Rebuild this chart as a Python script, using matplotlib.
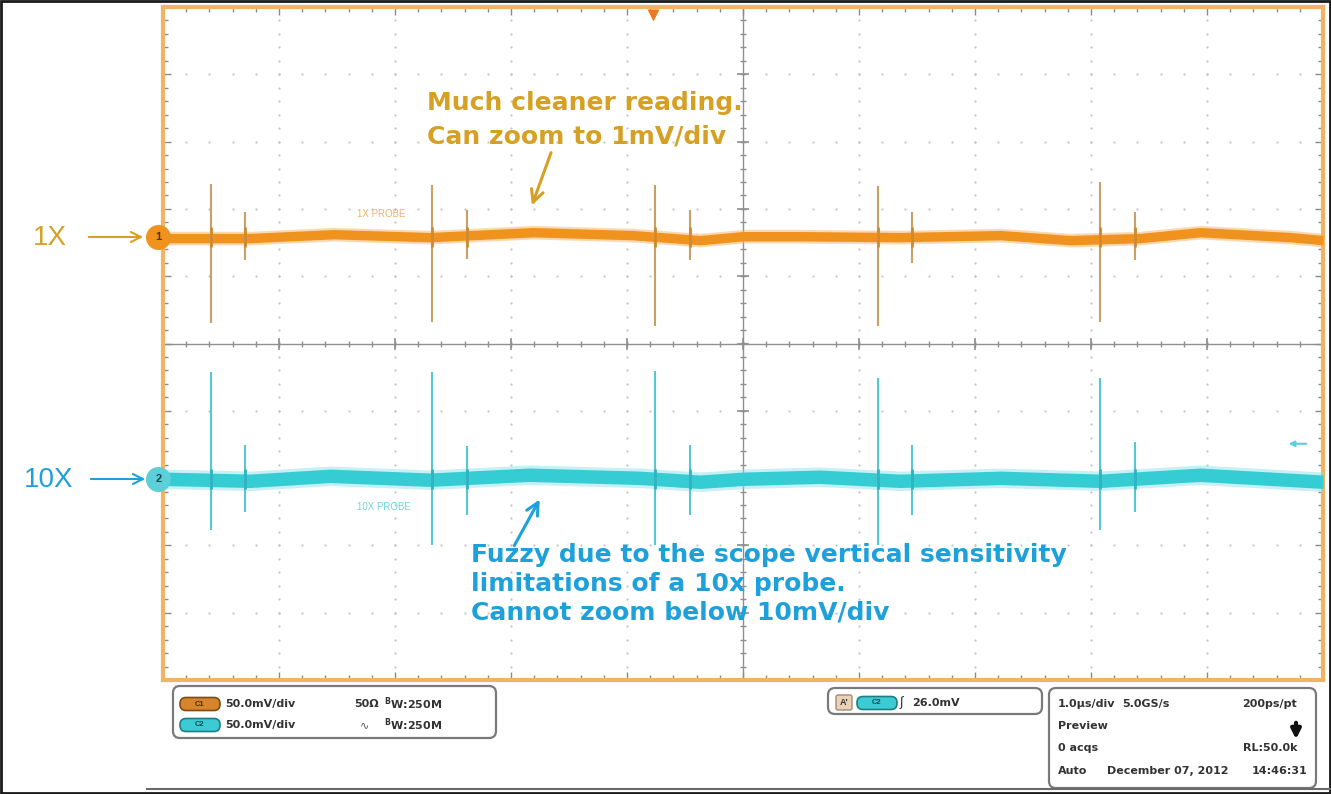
import numpy as np
import matplotlib
matplotlib.use('Agg')
import matplotlib.pyplot as plt
from matplotlib.patches import FancyBboxPatch, Rectangle

plt.rcParams['font.family'] = ['Liberation Sans', 'DejaVu Sans']

W, H = 1331, 794

# scope settings: 10 x 10 divisions, 1.0us/div, 50mV/div
VDIV = 50.0
CH1_POS = 1.58      # ground marker, divisions
CH2_POS = -2.01
TRIG_T = -0.78      # us
TRIG_LEVEL = 26.0   # mV on C2

# slow baseline wander (us, mV)
ch1_t = [-5.0, -4.25, -3.53, -2.70, -1.81, -0.95, -0.37, 0.0, 0.49, 1.35,
         2.22, 2.82, 3.42, 3.94, 4.72, 5.0]
ch1_mv = [-0.7, -0.7, 2.2, 0.0, 3.7, 1.5, -2.2, 0.7, 0.7, 0.0,
          1.5, -2.2, -0.7, 3.7, 0.0, -2.2]
ch2_t = [-5.0, -4.25, -3.56, -2.70, -1.84, -0.89, -0.37, 0.0, 0.66, 1.35,
         2.22, 3.08, 3.94, 5.0]
ch2_mv = [0.0, -1.5, 2.2, -0.7, 3.0, 0.7, -2.2, 0.0, 1.5, -1.5,
          0.7, -1.5, 3.0, -2.2]

# switching glitches (us)
big_t = [-4.59, -2.68, -0.76, 1.16, 3.08]
small_t = [-4.29, -2.38, -0.46, 1.46, 3.38]

ch1_big_hi = [39.6, 38.8, 38.8, 38.1, 41.0]
ch1_big_lo = [-64.0, -63.0, -66.0, -66.0, -63.0]
ch1_small_hi = [19.0, 20.0, 20.0, 19.0, 19.0]
ch1_small_lo = [-17.0, -16.0, -17.0, -19.0, -17.0]

ch2_big_hi = [79.0, 79.0, 80.0, 75.0, 75.0]
ch2_big_lo = [-38.0, -49.0, -49.0, -49.0, -38.0]
ch2_small_hi = [25.0, 24.0, 25.0, 25.0, 27.0]
ch2_small_lo = [-25.0, -27.0, -27.0, -27.0, -25.0]

ORANGE = '#F0921E'
CYAN = '#35CCD4'
GOLD = '#D6A024'
BLUE = '#1EA0DA'

fig = plt.figure(figsize=(W / 100, H / 100), dpi=100)
ax = fig.add_axes([163 / W, 1 - 680 / H, 1160 / W, 673 / H])
ax.set_xlim(-5, 5)
ax.set_ylim(-5, 5)

# graticule
minor = np.arange(-5, 5.001, 0.2)
for g in range(-4, 5):
    if g == 0:
        continue
    ax.plot(np.full_like(minor, g), minor, ls='none', marker='o', ms=1.6,
            mec='none', mfc='#c4c4c4', zorder=1)
    ax.plot(minor, np.full_like(minor, g), ls='none', marker='o', ms=1.6,
            mec='none', mfc='#c4c4c4', zorder=1)
ax.axvline(0, color='#8f8f8f', lw=1, zorder=1)
ax.axhline(0, color='#8f8f8f', lw=1, zorder=1)
ax.plot(np.zeros_like(minor), minor, ls='none', marker='_', ms=5, mew=1,
        color='#8f8f8f', zorder=1)
ax.plot(minor, np.zeros_like(minor), ls='none', marker='|', ms=5, mew=1,
        color='#8f8f8f', zorder=1)
major = np.arange(-5, 6, 1)
ax.plot(np.zeros_like(major), major, ls='none', marker='_', ms=8, mew=1.2,
        color='#8f8f8f', zorder=1)
ax.plot(major, np.zeros_like(major), ls='none', marker='|', ms=8, mew=1.2,
        color='#8f8f8f', zorder=1)

ax.set_xticks(major)
ax.set_yticks(major)
ax.set_xticks(minor, minor=True)
ax.set_yticks(minor, minor=True)
ax.tick_params(which='both', direction='in', top=True, right=True,
               labelbottom=False, labelleft=False, color='#8a8a8a', width=1)
ax.tick_params(which='major', length=6)
ax.tick_params(which='minor', length=3.5)
for s in ax.spines.values():
    s.set_color('#F2B462')
    s.set_linewidth(3)


def draw_channel(pos, t, mv, core, fuzz, spike, spike_dark, half,
                 bhi, blo, shi, slo):
    y = pos + np.array(mv) / VDIV
    ax.fill_between(t, y - half * 1.45, y + half * 1.45, color=fuzz,
                    alpha=0.5, lw=0, zorder=3)
    ax.fill_between(t, y - half, y + half, color=core, lw=0, zorder=4)
    ax.vlines(big_t, pos + np.array(blo) / VDIV, pos + np.array(bhi) / VDIV,
              color=spike, lw=1.5, zorder=5)
    ax.vlines(small_t, pos + np.array(slo) / VDIV, pos + np.array(shi) / VDIV,
              color=spike, lw=1.5, zorder=5)
    ax.vlines(big_t + small_t, pos - 0.15, pos + 0.15, color=spike_dark,
              lw=2, zorder=5)


draw_channel(CH1_POS, ch1_t, ch1_mv, ORANGE, '#F6B567', '#C9A064', '#D08A2A',
             0.07, ch1_big_hi, ch1_big_lo, ch1_small_hi, ch1_small_lo)
draw_channel(CH2_POS, ch2_t, ch2_mv, CYAN, '#8FE3E8', '#55C8D2', '#2FB4BF',
             0.1, ch2_big_hi, ch2_big_lo, ch2_small_hi, ch2_small_lo)

# channel ground markers
for pos, col, lab, tc in [(CH1_POS, ORANGE, '1', '#5a3000'),
                          (CH2_POS, '#5CCFD8', '2', '#0d4d55')]:
    ax.plot([-5.04], [pos], marker='o', ms=17, color=col, clip_on=False,
            zorder=8)
    ax.text(-5.04, pos, lab, fontsize=8, fontweight='bold', color=tc,
            ha='center', va='center', clip_on=False, zorder=9)

# trigger position and level
ax.plot([TRIG_T], [4.88], marker='v', ms=8, color='#EE7A1A', mec='none',
        zorder=8, clip_on=False)
trig_y = CH2_POS + TRIG_LEVEL / VDIV
ax.annotate('', xy=(4.68, trig_y), xytext=(4.88, trig_y),
            arrowprops=dict(arrowstyle='-|>', color='#5CCFD8', lw=1.5,
                            mutation_scale=8))

# pixel overlay for labels and the readout panel
ov = fig.add_axes([0, 0, 1, 1])
ov.set_xlim(0, W)
ov.set_ylim(H, 0)
ov.axis('off')
ov.patch.set_visible(False)

ov.text(357, 214, '1X PROBE', fontsize=7, color='#F0B45E', va='center')
ov.text(357, 507, '10X PROBE', fontsize=7, color='#6FD6DE', va='center')

ov.text(33, 238, '1X', fontsize=20, color=GOLD, va='center')
ov.annotate('', xy=(146, 237), xytext=(86, 237),
            arrowprops=dict(arrowstyle='->', color=GOLD, lw=1.5,
                            mutation_scale=18))
ov.text(24, 480, '10X', fontsize=20, color=BLUE, va='center')
ov.annotate('', xy=(148, 479), xytext=(88, 479),
            arrowprops=dict(arrowstyle='->', color=BLUE, lw=1.5,
                            mutation_scale=18))

note = dict(family='DejaVu Sans', fontweight='bold', va='baseline')
ov.text(427, 110, 'Much cleaner reading.', fontsize=18, color=GOLD, **note)
ov.text(427, 143, 'Can zoom to 1mV/div', fontsize=18, color=GOLD, **note)
ov.annotate('', xy=(531, 208), xytext=(552, 150),
            arrowprops=dict(arrowstyle='->', color=GOLD, lw=2.2,
                            mutation_scale=22))

for i, line in enumerate(['Fuzzy due to the scope vertical sensitivity',
                          'limitations of a 10x probe.',
                          'Cannot zoom below 10mV/div']):
    ov.text(471, 562 + 29 * i, line, fontsize=18, color=BLUE, zorder=3,
            **note)
ov.annotate('', xy=(541, 497), xytext=(513, 548),
            arrowprops=dict(arrowstyle='->', color=BLUE, lw=2.2,
                            mutation_scale=22), zorder=2)


def rbox(x0, y0, x1, y1, r=7, fc='white', ec='#7a7a7a', lw=1.6):
    ov.add_patch(FancyBboxPatch((x0, y0), x1 - x0, y1 - y0,
                                boxstyle='round,pad=0,rounding_size=%d' % r,
                                fc=fc, ec=ec, lw=lw))


def pill(x0, y, lab, fc, ec, tc):
    rbox(x0, y - 6.5, x0 + 40, y + 6.5, r=6, fc=fc, ec=ec, lw=1.2)
    ov.text(x0 + 20, y, lab, fontsize=5.5, color=tc, ha='center',
            va='center', fontweight='bold')


kw = dict(family='DejaVu Sans', fontsize=8, fontweight='bold',
          color='#333333', va='center')

rbox(173, 686, 496, 738)
pill(180, 704, 'C1', '#D8842C', '#7a4e18', '#4a2c08')
pill(180, 725, 'C2', '#3CCBD3', '#1d7f86', '#0d4d55')
ov.text(225, 704, '50.0mV/div', **kw)
ov.text(225, 725, '50.0mV/div', **kw)
ov.text(354, 704, '50Ω', **kw)
ov.text(360, 725, '∿', fontsize=8, color='#555555', va='center')
ov.text(384, 704, r'$^{\mathbf{B}}$W:250M', **kw)
ov.text(384, 725, r'$^{\mathbf{B}}$W:250M', **kw)

rbox(828, 688, 1042, 714)
rbox(836, 695, 852, 710, r=2, fc='#EBD2B6', ec='#a08c78', lw=1)
ov.text(844, 702.5, "A'", fontsize=6.5, fontweight='bold', color='#333333',
        ha='center', va='center')
pill(857, 703, 'C2', '#3CCBD3', '#1d7f86', '#0d4d55')
ov.text(900, 703, '∫', fontsize=9, color='#222222', va='center')
ov.text(912, 703, '26.0mV', **kw)

rbox(1049, 688, 1316, 788)
ov.text(1058, 704, '1.0µs/div', **kw)
ov.text(1122, 704, '5.0GS/s', **kw)
ov.text(1297, 704, '200ps/pt', ha='right', **kw)
ov.text(1058, 726, 'Preview', **kw)
ov.annotate('', xy=(1296, 742), xytext=(1296, 720),
            arrowprops=dict(arrowstyle='-|>', color='#111111', lw=3,
                            mutation_scale=14))
ov.text(1058, 748, '0 acqs', **kw)
ov.text(1298, 748, 'RL:50.0k', ha='right', **kw)
ov.text(1058, 771, 'Auto', **kw)
ov.text(1107, 771, 'December 07, 2012', **kw)
ov.text(1307, 771, '14:46:31', ha='right', **kw)

ov.plot([147, W], [788.5, 788.5], color='#6a6a6a', lw=1.5)
ov.add_patch(Rectangle((1.2, 1.2), W - 2.4, H - 2.4, fill=False,
                       ec='#1a1a1a', lw=2))

fig.savefig('out.png', dpi=100)
